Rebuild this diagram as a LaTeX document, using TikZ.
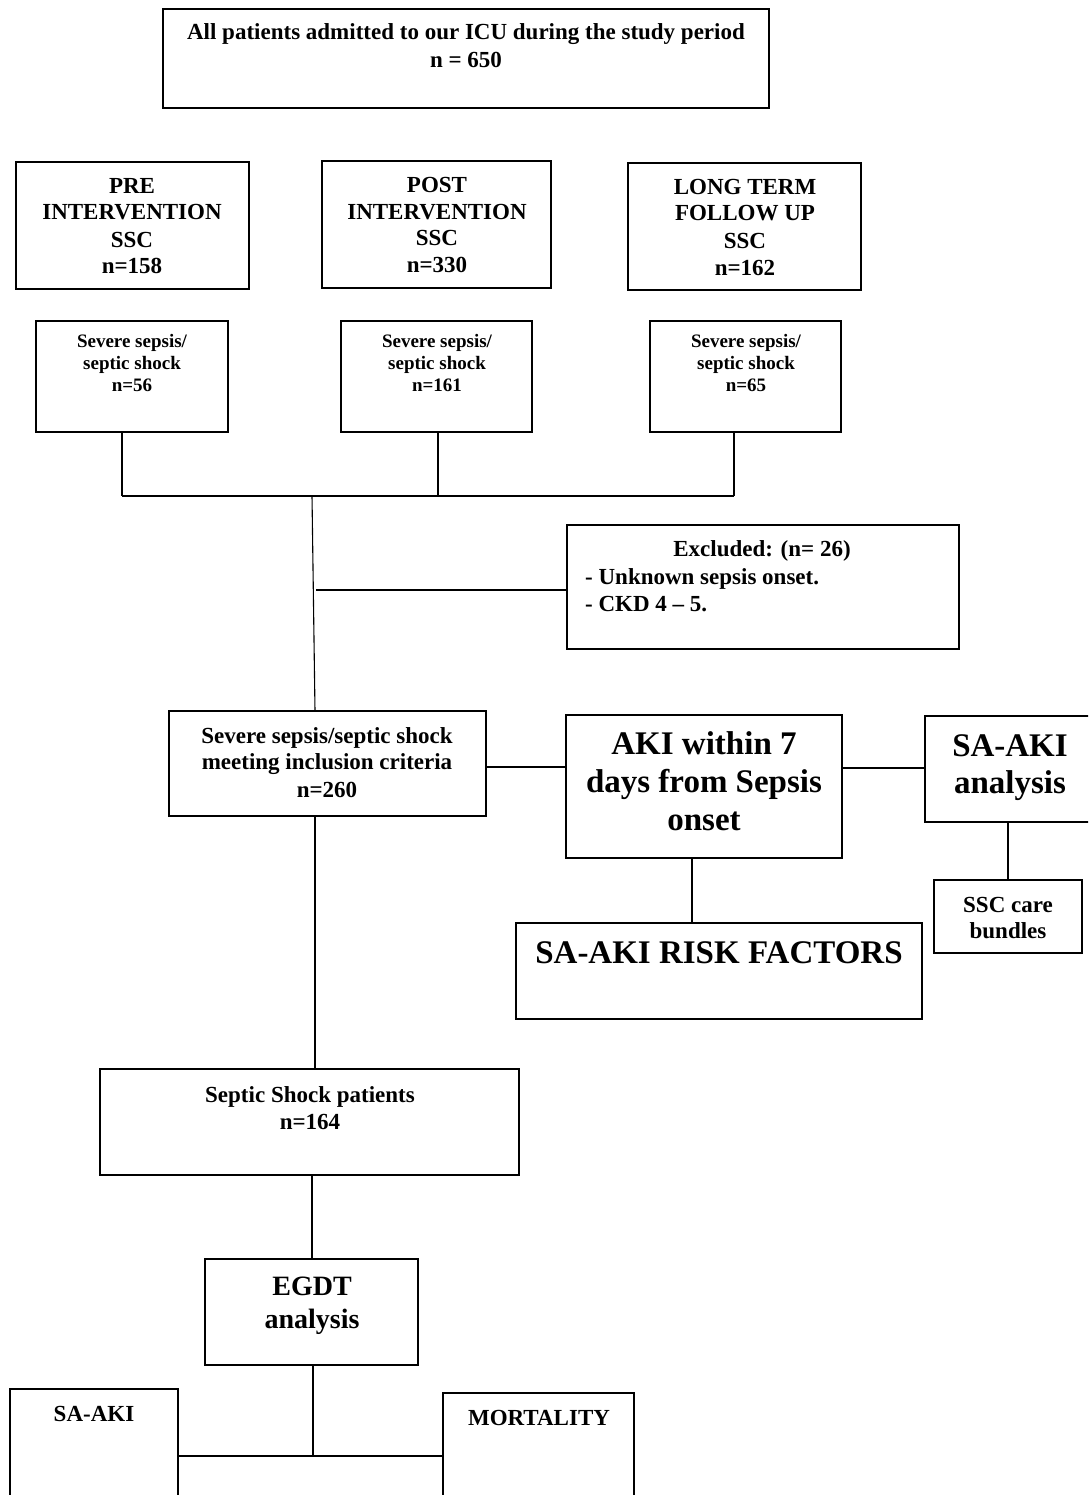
\documentclass[tikz,border=0pt]{standalone}
\usepackage{fontspec}
\setmainfont{Liberation Serif}
\begin{document}
\begin{tikzpicture}[x=1pt,y=-1pt,
  box/.style={draw=black,line width=1.8pt,rectangle,inner sep=0pt,outer sep=0pt,anchor=north west},
  conn/.style={draw=black,line width=1.6pt},
  trunk/.style={draw=black,line width=1.1pt},
  tmain/.style={anchor=base,inner sep=0pt,font=\bfseries\fontsize{23}{27}\selectfont},
  tsmall/.style={anchor=base,inner sep=0pt,font=\bfseries\fontsize{19}{22}\selectfont},
  tbig/.style={anchor=base,inner sep=0pt,font=\bfseries\fontsize{33}{38}\selectfont},
  tmid/.style={anchor=base,inner sep=0pt,font=\bfseries\fontsize{28}{34}\selectfont},
  tleft/.style={anchor=base west,inner sep=0pt,font=\bfseries\fontsize{23}{27}\selectfont}]
\clip (0,0) rectangle (1088,1495);
\fill[white] (0,0) rectangle (1088,1495);

% boxes
\node[box,minimum width=606pt,minimum height=99pt] (top) at (163,9) {};
\node[box,minimum width=233pt,minimum height=127pt] (pre) at (16,162) {};
\node[box,minimum width=229pt,minimum height=127pt] (post) at (322,161) {};
\node[box,minimum width=233pt,minimum height=127pt] (long) at (628,163) {};
\node[box,minimum width=192pt,minimum height=111pt] (ssa) at (36,321) {};
\node[box,minimum width=191pt,minimum height=111pt] (ssb) at (341,321) {};
\node[box,minimum width=191pt,minimum height=111pt] (ssc) at (650,321) {};
\node[box,minimum width=392pt,minimum height=124pt] (excl) at (567,525) {};
\node[box,minimum width=317pt,minimum height=105pt] (incl) at (169,711) {};
\node[box,minimum width=276pt,minimum height=143pt] (aki) at (566,715) {};
\node[box,minimum width=175pt,minimum height=106pt] (saaki) at (925,716) {};
\node[box,minimum width=148pt,minimum height=73pt] (bund) at (934,880) {};
\node[box,minimum width=406pt,minimum height=96pt] (risk) at (516,923) {};
\node[box,minimum width=419pt,minimum height=106pt] (shock) at (100,1069) {};
\node[box,minimum width=213pt,minimum height=106pt] (egdt) at (205,1259) {};
\node[box,minimum width=168pt,minimum height=125pt] (saaki2) at (10,1389) {};
\node[box,minimum width=191pt,minimum height=125pt] (mort) at (443,1393) {};

% texts
\node[tmain] (t1a) at (466,40) {All patients admitted to our ICU during the study period};
\node[tmain] (t1b) at (466,68) {n = 650};

\node[tmain] (p1) at (132,194) {PRE};
\node[tmain] (p2) at (132,220) {INTERVENTION};
\node[tmain] (p3) at (132,248) {SSC};
\node[tmain] (p4) at (132,274) {n=158};

\node[tmain] (q1) at (437,193) {POST};
\node[tmain] (q2) at (437,220) {INTERVENTION};
\node[tmain] (q3) at (437,246) {SSC};
\node[tmain] (q4) at (437,273) {n=330};

\node[tmain] (l1) at (745,195) {LONG TERM};
\node[tmain] (l2) at (745,221) {FOLLOW UP};
\node[tmain] (l3) at (745,249) {SSC};
\node[tmain] (l4) at (745,276) {n=162};

\node[tsmall] (sa1) at (132,347) {Severe sepsis/};
\node[tsmall] (sa2) at (132,369) {septic shock};
\node[tsmall] (sa3) at (132,391) {n=56};
\node[tsmall] (sb1) at (437,347) {Severe sepsis/};
\node[tsmall] (sb2) at (437,369) {septic shock};
\node[tsmall] (sb3) at (437,391) {n=161};
\node[tsmall] (sc1) at (746,347) {Severe sepsis/};
\node[tsmall] (sc2) at (746,369) {septic shock};
\node[tsmall] (sc3) at (746,391) {n=65};

\node[tmain] (e1) at (762,556) {Excluded: (n= 26)};
\node[tleft] (e2) at (585,584) {- Unknown sepsis onset.};
\node[tleft] (e3) at (585,611) {- CKD 4 -- 5.};

\node[tmain] (i1) at (327,743) {Severe sepsis/septic shock};
\node[tmain] (i2) at (327,769) {meeting inclusion criteria};
\node[tmain] (i3) at (327,797) {n=260};

\node[tbig] (a1) at (704,754) {AKI within 7};
\node[tbig] (a2) at (704,792) {days from Sepsis};
\node[tbig] (a3) at (704,830) {onset};

\node[tbig] (s1) at (1010,756) {SA-AKI};
\node[tbig] (s2) at (1010,793) {analysis};

\node[tmain] (b1) at (1008,912) {SSC care};
\node[tmain] (b2) at (1008,938) {bundles};

\node[tbig] (r1) at (719,963) {SA-AKI RISK FACTORS};

\node[tmain] (k1) at (310,1102) {Septic Shock patients};
\node[tmain] (k2) at (310,1129) {n=164};

\node[tmid] (g1) at (312,1295) {EGDT};
\node[tmid] (g2) at (312,1328) {analysis};

\node[tmain] (z1) at (94,1421) {SA-AKI};
\node[tmain] (m1) at (539,1425) {MORTALITY};

% junction coordinates
\coordinate (ja) at (122,496);
\coordinate (jb) at (438,496);
\coordinate (jc) at (734,496);
\coordinate (jt) at (312,496);
\coordinate (jx) at (316,590);
\coordinate (jib) at (315,816);
\coordinate (hy) at (0,767);
\coordinate (vs) at (1008,0);
\coordinate (va) at (692,0);
\coordinate (vk) at (312,0);
\coordinate (jg) at (313,1456);

% connectors
\draw[conn] (ssa.south -| ja) -- (ja);
\draw[conn] (ssb.south -| jb) -- (jb);
\draw[conn] (ssc.south -| jc) -- (jc);
\draw[conn] (ja) -- (jc);
\draw[trunk] (jt) -- (incl.north -| jib);
\draw[conn] (jx) -- (jx -| excl.west);
\draw[conn] (incl.east |- hy) -- (aki.west |- hy);
\draw[conn] (aki.east |- 0,768) -- (saaki.west |- 0,768);
\draw[conn] (saaki.south -| vs) -- (bund.north -| vs);
\draw[conn] (aki.south -| va) -- (risk.north -| va);
\draw[trunk] (jib) -- (shock.north -| jib);
\draw[conn] (shock.south -| vk) -- (egdt.north -| vk);
\draw[conn] (egdt.south -| jg) -- (jg);
\draw[conn] (saaki2.east |- jg) -- (mort.west |- jg);
\end{tikzpicture}
\end{document}
